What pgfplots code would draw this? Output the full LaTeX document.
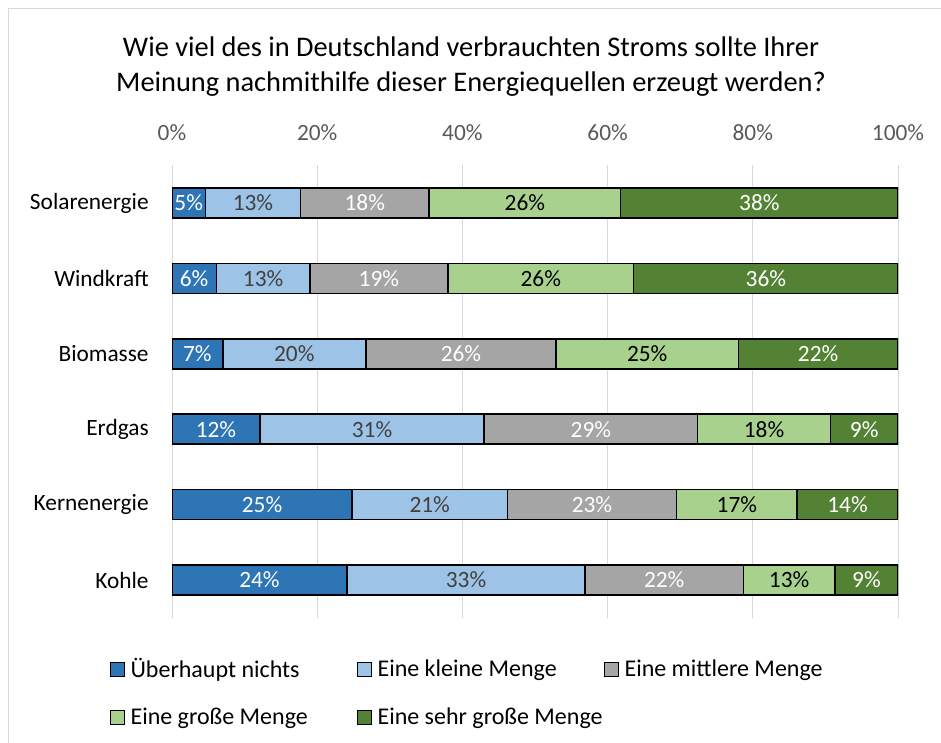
\documentclass[border=0pt]{standalone}
\usepackage{fontspec}
\setmainfont{Carlito}
\usepackage{pgfplots}
\pgfplotsset{compat=1.18}
\definecolor{cdblue}{HTML}{2E75B6}
\definecolor{clblue}{HTML}{9DC3E6}
\definecolor{cgray}{HTML}{A5A5A5}
\definecolor{clgreen}{HTML}{A9D18E}
\definecolor{cdgreen}{HTML}{548235}
\definecolor{gridgray}{HTML}{D9D9D9}
\definecolor{ticktext}{HTML}{595959}
\definecolor{lbltext}{HTML}{404040}
\newcommand\fs{\fontsize{17.5pt}{21pt}\selectfont}
\newcommand\legtxt[1]{\makebox[170pt][l]{\hspace{2.5pt}#1}}
\begin{document}
\begin{tikzpicture}
\useasboundingbox (0pt,0pt) rectangle (705.75pt,556.5pt);
\draw[gridgray, line width=0.75pt] (6pt,-2pt) -- (6pt,549.75pt) -- (710pt,549.75pt);
\node[align=center, font=\fontsize{21.3pt}{26.25pt}\selectfont] at (353.25pt,506.6pt)
  {Wie viel des in Deutschland verbrauchten Stroms sollte Ihrer\\
   Meinung nachmithilfe dieser Energiequellen erzeugt werden?};
\begin{axis}[
  at={(129pt,432.5pt)}, anchor=north west,
  scale only axis, width=544.5pt, height=339.3pt,
  xbar stacked, bar width=22.5pt,
  xmin=0, xmax=100, ymin=-0.5, ymax=5.5, y dir=reverse,
  ytick={0,1,2,3,4,5},
  yticklabels={Solarenergie,Windkraft,Biomasse,Erdgas,Kernenergie,Kohle},
  yticklabel style={font=\fs, xshift=-14pt},
  xtick={0,20,40,60,80,100},
  xticklabel={\pgfmathprintnumber{\tick}\%},
  xticklabel pos=right,
  xticklabel style={font=\fs, text=ticktext, yshift=15pt},
  /pgf/number format/assume math mode=true,
  xmajorgrids, grid style={draw=gridgray, line width=0.75pt},
  major tick length=0,
  axis line style={draw=none},
  visualization depends on={rawx \as \rawx},
  nodes near coords={\pgfmathprintnumber[fixed,precision=0]{\rawx}\%},
  every node near coord/.append style={font=\fs, anchor=center},
  every axis plot/.append style={draw=black, line width=1.1pt},
  legend image code/.code={\draw[#1, draw=black, line width=0.75pt] (0pt,-5.25pt) rectangle (10.5pt,5.25pt);},
  legend columns=3,
  legend style={at={(-0.0919,-0.078)}, anchor=north west, draw=none,
    font=\fontsize{18pt}{21.6pt}\selectfont, row sep=17pt},
]
\addplot[fill=cdblue, every node near coord/.append style={text=white}] coordinates
  {(4.6,0) (6.1,1) (7.0,2) (12.1,3) (24.8,4) (24.1,5)};
\addlegendentry{\legtxt{Überhaupt nichts}}
\addplot[fill=clblue, every node near coord/.append style={text=lbltext}] coordinates
  {(13.1,0) (12.9,1) (19.7,2) (30.9,3) (21.4,4) (32.8,5)};
\addlegendentry{\legtxt{Eine kleine Menge}}
\addplot[fill=cgray, every node near coord/.append style={text=white}] coordinates
  {(17.7,0) (19.0,1) (26.2,2) (29.4,3) (23.3,4) (21.8,5)};
\addlegendentry{\legtxt{Eine mittlere Menge}}
\addplot[fill=clgreen, every node near coord/.append style={text=black}] coordinates
  {(26.4,0) (25.6,1) (25.1,2) (18.3,3) (16.6,4) (12.6,5)};
\addlegendentry{\legtxt{Eine große Menge}}
\addplot[fill=cdgreen, every node near coord/.append style={text=white}] coordinates
  {(38.2,0) (36.4,1) (22.0,2) (9.3,3) (13.9,4) (8.7,5)};
\addlegendentry{\legtxt{Eine sehr große Menge}}
\end{axis}
\end{tikzpicture}
\end{document}
